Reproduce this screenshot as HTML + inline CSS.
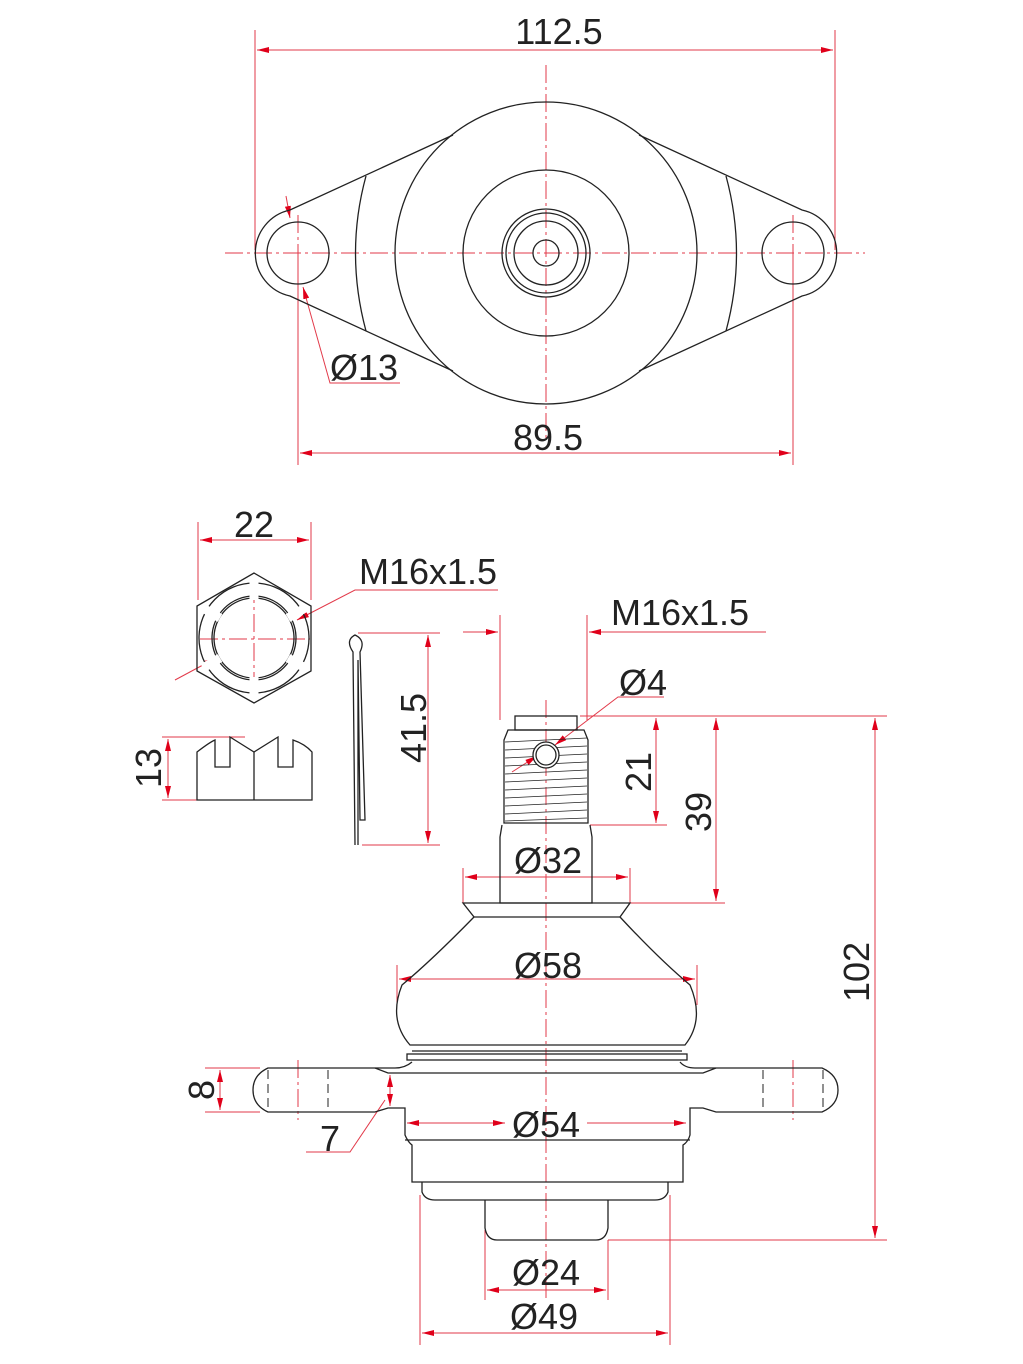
<!DOCTYPE html>
<html><head><meta charset="utf-8"><style>
html,body{margin:0;padding:0;background:#fff}
svg{display:block}
text{font-family:"Liberation Sans",Arial,sans-serif;fill:#222}
</style></head><body>
<svg width="1023" height="1364" viewBox="0 0 1023 1364" xmlns="http://www.w3.org/2000/svg">
<defs>
<marker id="a" viewBox="0 0 12 6" refX="12" refY="3" markerWidth="12" markerHeight="6" markerUnits="userSpaceOnUse" orient="auto-start-reverse"><path d="M0,0 L12,3 L0,6z" fill="#e0001a"/></marker>
</defs>
<g fill="none" stroke="#e23a4a" stroke-width="1">
<line x1="255" y1="30" x2="255" y2="250"/><line x1="835" y1="30" x2="835" y2="250"/>
<line x1="257" y1="50" x2="833" y2="50" marker-start="url(#a)" marker-end="url(#a)"/>
<line x1="298" y1="260" x2="298" y2="465"/><line x1="793" y1="260" x2="793" y2="465"/>
<line x1="300" y1="453" x2="791" y2="453" marker-start="url(#a)" marker-end="url(#a)"/>
<polyline points="400,383 330,383 303,287" marker-end="url(#a)"/>
<line x1="286" y1="196" x2="290" y2="218" marker-end="url(#a)"/>
<g stroke-dasharray="18,4,3,4">
<line x1="225" y1="253" x2="865" y2="253"/><line x1="546" y1="65" x2="546" y2="440"/>
<line x1="298" y1="215" x2="298" y2="300"/><line x1="793" y1="215" x2="793" y2="300"/>
<line x1="200" y1="639" x2="310" y2="639"/><line x1="254" y1="585" x2="254" y2="695"/>
<line x1="546" y1="700" x2="546" y2="1300"/>
<line x1="298" y1="1060" x2="298" y2="1120"/><line x1="793" y1="1060" x2="793" y2="1120"/>
</g>
<line x1="198" y1="522" x2="198" y2="600"/><line x1="311" y1="522" x2="311" y2="600"/>
<line x1="200" y1="540" x2="309" y2="540" marker-start="url(#a)" marker-end="url(#a)"/>
<polyline points="498,590 355,590 297,620" marker-end="url(#a)"/>
<line x1="175" y1="680" x2="216" y2="658" marker-end="url(#a)"/>
<line x1="162" y1="737" x2="245" y2="737"/><line x1="162" y1="800" x2="197" y2="800"/>
<line x1="168" y1="739" x2="168" y2="798" marker-start="url(#a)" marker-end="url(#a)"/>
<line x1="358" y1="633" x2="440" y2="633"/><line x1="362" y1="845" x2="440" y2="845"/>
<line x1="428" y1="635" x2="428" y2="843" marker-start="url(#a)" marker-end="url(#a)"/>
<line x1="500" y1="615" x2="500" y2="720"/><line x1="587" y1="615" x2="587" y2="720"/>
<line x1="463" y1="632" x2="498" y2="632" marker-end="url(#a)"/>
<line x1="766" y1="632" x2="589" y2="632" marker-end="url(#a)"/>
<polyline points="664,697 618,697 555,745" marker-end="url(#a)"/>
<line x1="512" y1="772" x2="537" y2="756" marker-end="url(#a)"/>
<line x1="580" y1="716" x2="887" y2="716"/>
<line x1="590" y1="825" x2="667" y2="825"/>
<line x1="630" y1="903" x2="725" y2="903"/>
<line x1="656" y1="718" x2="656" y2="823" marker-start="url(#a)" marker-end="url(#a)"/>
<line x1="716" y1="718" x2="716" y2="901" marker-start="url(#a)" marker-end="url(#a)"/>
<line x1="875" y1="718" x2="875" y2="1238" marker-start="url(#a)" marker-end="url(#a)"/>
<line x1="608" y1="1240" x2="887" y2="1240"/>
<line x1="463" y1="868" x2="463" y2="903"/><line x1="630" y1="868" x2="630" y2="903"/>
<line x1="465" y1="877" x2="628" y2="877" marker-start="url(#a)" marker-end="url(#a)"/>
<line x1="397" y1="965" x2="397" y2="1005"/><line x1="697" y1="965" x2="697" y2="1005"/>
<line x1="399" y1="979" x2="695" y2="979" marker-start="url(#a)" marker-end="url(#a)"/>
<line x1="407" y1="1123" x2="505" y2="1123" marker-end="url(#a)" marker-start="url(#a)"/>
<line x1="587" y1="1123" x2="686" y2="1123" marker-end="url(#a)"/>
<line x1="485" y1="1230" x2="485" y2="1300"/><line x1="608" y1="1240" x2="608" y2="1300"/>
<line x1="487" y1="1290" x2="606" y2="1290" marker-start="url(#a)" marker-end="url(#a)"/>
<line x1="420" y1="1195" x2="420" y2="1345"/><line x1="670" y1="1195" x2="670" y2="1345"/>
<line x1="422" y1="1333" x2="668" y2="1333" marker-start="url(#a)" marker-end="url(#a)"/>
<line x1="205" y1="1068" x2="260" y2="1068"/><line x1="205" y1="1112" x2="260" y2="1112"/>
<line x1="220" y1="1070" x2="220" y2="1110" marker-start="url(#a)" marker-end="url(#a)"/>
<line x1="390" y1="1075" x2="390" y2="1106" marker-start="url(#a)" marker-end="url(#a)"/>
<polyline points="306,1152 350,1152 385,1100"/>
</g>

<g fill="none" stroke="#222" stroke-width="1.3">
<circle cx="546" cy="253" r="151"/><circle cx="546" cy="253" r="83"/>
<circle cx="546" cy="253" r="44"/><circle cx="546" cy="253" r="40"/><circle cx="546" cy="253" r="32"/><circle cx="546" cy="253" r="13"/>
<circle cx="298" cy="253" r="31"/><circle cx="793" cy="253" r="31"/>
<path d="M453,135 L290,210 A44,44 0 0 0 290,296 L453,371"/>
<path d="M639,135 L802,210 A44,44 0 0 1 802,296 L639,371"/>
<path d="M366,176 Q345,253 366,331"/><path d="M726,176 Q747,253 726,331"/>
<polygon points="254,573 311,606 311,671 254,703 197,671 197,606"/>
<circle cx="254" cy="638" r="42"/><circle cx="254" cy="638" r="40"/><circle cx="254" cy="638" r="55"/>
<g stroke="#fff" stroke-width="9"><line x1="254" y1="580" x2="254" y2="600"/><line x1="254" y1="677" x2="254" y2="697"/><line x1="203" y1="608" x2="220" y2="618"/><line x1="305" y1="608" x2="288" y2="618"/><line x1="203" y1="668" x2="220" y2="658"/><line x1="305" y1="668" x2="288" y2="658"/></g>
<path d="M197,800 L197,752 Q210,742 215,740 L215,767 L230,767 L230,737 L254,752 L278,737 L278,767 L293,767 L293,740 Q305,744 312,752 L312,800 Z"/>
<line x1="254" y1="752" x2="254" y2="800"/>
<path d="M355,845 L353,652 Q345,640 355,635 Q366,640 360,652 L365,820 L360,820 L358,660 M358,660 L358,845"/>
<rect x="515" y="716" width="62" height="14"/>
<path d="M508,730 L504,740 L504,823 L588,823 L588,740 L584,730 Z"/>
<g stroke-width="0.8">
<line x1="505" y1="742" x2="587" y2="738"/><line x1="505" y1="750" x2="587" y2="746"/><line x1="505" y1="758" x2="587" y2="754"/><line x1="505" y1="766" x2="587" y2="762"/><line x1="505" y1="774" x2="587" y2="770"/><line x1="505" y1="782" x2="587" y2="778"/><line x1="505" y1="790" x2="587" y2="786"/><line x1="505" y1="798" x2="587" y2="794"/><line x1="505" y1="806" x2="587" y2="802"/><line x1="505" y1="814" x2="587" y2="810"/><line x1="505" y1="821" x2="587" y2="818"/>
</g>
<circle cx="546" cy="755" r="13" fill="#fff"/><circle cx="546" cy="755" r="10"/>
<path d="M502,825 L500,837 L500,903 L592,903 L592,837 L590,825"/>
<path d="M463,903 L630,903 L620,917 Q660,960 690,985 Q705,1020 685,1045 L410,1045 Q388,1020 402,985 Q432,960 474,917 Z"/>
<line x1="474" y1="917" x2="620" y2="917"/>
<rect x="407" y="1054" width="280" height="6"/><line x1="412" y1="1051" x2="682" y2="1051"/>
<path d="M412,1062 Q405,1068 395,1068 L268,1068 Q253,1075 253,1090 Q253,1105 268,1112 L375,1112 L388,1108 L405,1108 L405,1135 Q408,1142 412,1145 L412,1182 L683,1182 L683,1145 Q688,1142 690,1135 L690,1108 L703,1108 L716,1112 L822,1112 Q838,1105 838,1090 Q838,1075 822,1068 L695,1068 Q685,1068 680,1062"/>
<path d="M375,1068 L388,1073 L703,1073 L716,1068"/>
<line x1="405" y1="1140" x2="690" y2="1140"/>
<path d="M422,1182 L422,1192 Q425,1200 435,1200 L655,1200 Q665,1200 668,1192 L668,1182"/>
<path d="M485,1200 L485,1228 Q487,1240 497,1240 L596,1240 Q606,1240 608,1228 L608,1200"/>
<g stroke-dasharray="9,5" stroke-width="1"><line x1="268" y1="1070" x2="268" y2="1110"/><line x1="328" y1="1070" x2="328" y2="1110"/><line x1="763" y1="1070" x2="763" y2="1110"/><line x1="823" y1="1070" x2="823" y2="1110"/></g>
</g>

<g font-size="36">
<text x="559" y="44" text-anchor="middle">112.5</text>
<text x="548" y="450" text-anchor="middle">89.5</text>
<text x="364" y="380" text-anchor="middle">Ø13</text>
<text x="254" y="537" text-anchor="middle">22</text>
<text x="428" y="584" text-anchor="middle">M16x1.5</text>
<text x="680" y="625" text-anchor="middle">M16x1.5</text>
<text x="643" y="695" text-anchor="middle">Ø4</text>
<text x="548" y="873" text-anchor="middle">Ø32</text>
<text x="548" y="978" text-anchor="middle">Ø58</text>
<text x="546" y="1137" text-anchor="middle">Ø54</text>
<text x="546" y="1285" text-anchor="middle">Ø24</text>
<text x="544" y="1329" text-anchor="middle">Ø49</text>
<text x="330" y="1151" text-anchor="middle">7</text>
<text transform="translate(161,768) rotate(-90)" text-anchor="middle">13</text>
<text transform="translate(426,728) rotate(-90)" text-anchor="middle">41.5</text>
<text transform="translate(651,772) rotate(-90)" text-anchor="middle">21</text>
<text transform="translate(711,812) rotate(-90)" text-anchor="middle">39</text>
<text transform="translate(869,972) rotate(-90)" text-anchor="middle">102</text>
<text transform="translate(214,1090) rotate(-90)" text-anchor="middle">8</text>
</g>
</svg>
</body></html>
